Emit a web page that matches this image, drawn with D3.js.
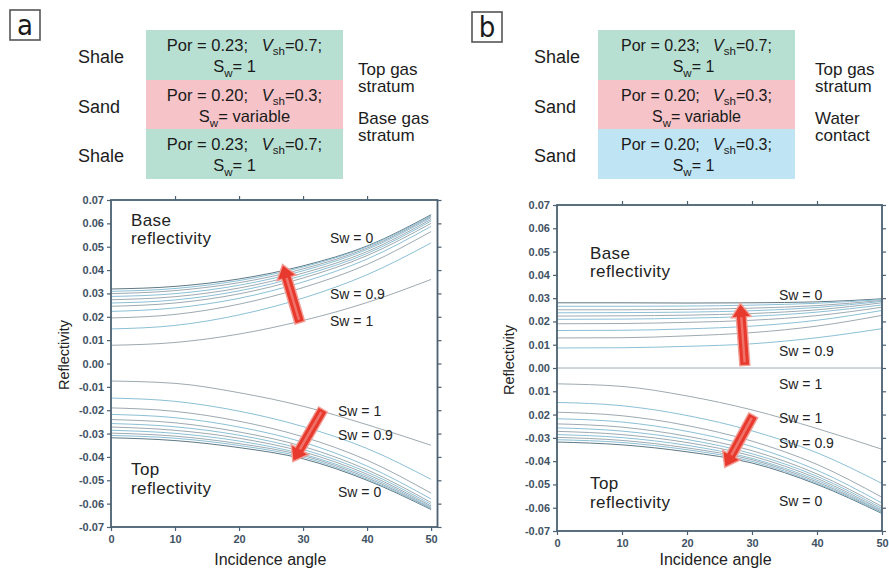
<!DOCTYPE html>
<html>
<head>
<meta charset="utf-8">
<script src="https://cdn.jsdelivr.net/npm/d3@7"></script>
<style>
  body { margin: 0; background: #fff; }
  svg { display: block; font-family: "Liberation Sans", Arial, sans-serif; }
</style>
</head>
<body>
<svg id="chart" width="889" height="570"></svg>
<script>
var angles = [0, 10, 20, 30, 40, 50];
var swLevels = [0, 0.1, 0.2, 0.3, 0.4, 0.5, 0.6, 0.7, 0.8, 0.9, 1];

// panel a, shale / gas sand / shale (rows: Sw = 0 ... 1)
var baseA = [
  [0.0319, 0.0330, 0.0362, 0.0418, 0.0503, 0.0637],
  [0.0309, 0.0321, 0.0355, 0.0413, 0.0500, 0.0633],
  [0.0299, 0.0312, 0.0346, 0.0405, 0.0494, 0.0629],
  [0.0287, 0.0299, 0.0335, 0.0397, 0.0488, 0.0624],
  [0.0273, 0.0286, 0.0323, 0.0387, 0.0479, 0.0617],
  [0.0259, 0.0272, 0.0311, 0.0377, 0.0471, 0.0610],
  [0.0245, 0.0259, 0.0298, 0.0366, 0.0462, 0.0600],
  [0.0223, 0.0238, 0.0279, 0.0349, 0.0447, 0.0587],
  [0.0195, 0.0210, 0.0254, 0.0325, 0.0424, 0.0565],
  [0.0148, 0.0163, 0.0208, 0.0280, 0.0380, 0.0516],
  [0.0078, 0.0090, 0.0126, 0.0184, 0.0261, 0.0360]
];
var topA = [
  [-0.0318, -0.0330, -0.0360, -0.0408, -0.0500, -0.0625],
  [-0.0308, -0.0320, -0.0351, -0.0401, -0.0495, -0.0622],
  [-0.0298, -0.0311, -0.0343, -0.0394, -0.0489, -0.0619],
  [-0.0286, -0.0299, -0.0332, -0.0388, -0.0482, -0.0615],
  [-0.0272, -0.0286, -0.0320, -0.0378, -0.0474, -0.0610],
  [-0.0257, -0.0271, -0.0307, -0.0368, -0.0465, -0.0603],
  [-0.0240, -0.0254, -0.0293, -0.0355, -0.0455, -0.0595],
  [-0.0218, -0.0232, -0.0272, -0.0337, -0.0439, -0.0580],
  [-0.0190, -0.0205, -0.0247, -0.0314, -0.0414, -0.0555],
  [-0.0148, -0.0162, -0.0204, -0.0270, -0.0364, -0.0496],
  [-0.0075, -0.0085, -0.0125, -0.0183, -0.0262, -0.0350]
];

// panel b, shale / gas sand / water sand
var baseB = [
  [0.0280, 0.0280, 0.0279, 0.0280, 0.0284, 0.0297],
  [0.0265, 0.0265, 0.0266, 0.0270, 0.0278, 0.0294],
  [0.0250, 0.0250, 0.0252, 0.0257, 0.0268, 0.0290],
  [0.0237, 0.0238, 0.0240, 0.0246, 0.0260, 0.0286],
  [0.0223, 0.0224, 0.0227, 0.0234, 0.0250, 0.0280],
  [0.0209, 0.0210, 0.0214, 0.0222, 0.0240, 0.0271],
  [0.0190, 0.0191, 0.0196, 0.0205, 0.0225, 0.0261],
  [0.0161, 0.0162, 0.0168, 0.0180, 0.0205, 0.0247],
  [0.0129, 0.0130, 0.0138, 0.0152, 0.0180, 0.0226],
  [0.0086, 0.0087, 0.0093, 0.0104, 0.0130, 0.0169],
  [0, 0, 0, 0, 0, 0]
];
var topB = [
  [-0.0318, -0.0330, -0.0360, -0.0408, -0.0500, -0.0625],
  [-0.0308, -0.0320, -0.0351, -0.0401, -0.0495, -0.0622],
  [-0.0298, -0.0311, -0.0343, -0.0394, -0.0489, -0.0619],
  [-0.0286, -0.0299, -0.0332, -0.0388, -0.0482, -0.0615],
  [-0.0272, -0.0286, -0.0320, -0.0378, -0.0474, -0.0610],
  [-0.0257, -0.0271, -0.0307, -0.0368, -0.0465, -0.0603],
  [-0.0240, -0.0254, -0.0293, -0.0355, -0.0455, -0.0595],
  [-0.0218, -0.0232, -0.0272, -0.0337, -0.0439, -0.0580],
  [-0.0190, -0.0205, -0.0247, -0.0314, -0.0414, -0.0555],
  [-0.0148, -0.0162, -0.0204, -0.0270, -0.0364, -0.0496],
  [-0.0068, -0.0079, -0.0120, -0.0180, -0.0260, -0.0349]
];

var xTicks = [0, 10, 20, 30, 40, 50];
var yTicks = [0.07, 0.06, 0.05, 0.04, 0.03, 0.02, 0.01, 0, -0.01, -0.02, -0.03, -0.04, -0.05, -0.06, -0.07];
var yLabelsA = ["0.07", "0.06", "0.05", "0.04", "0.03", "0.02", "0.01", "0.00", "-0.01", "-0.02", "-0.03", "-0.04", "-0.05", "-0.06", "-0.07"];
var yLabelsB = ["0.07", "0.06", "0.05", "0.04", "0.03", "0.02", "0.01", "0.00", "0.01", "0.02", "-0.03", "-0.04", "-0.05", "-0.06", "-0.07"];

// layer boxes
var rocksA = ["Shale", "Sand", "Shale"];
var porA = ["0.23", "0.20", "0.23"];
var vshA = ["0.7", "0.3", "0.7"];
var swA = ["1", "variable", "1"];
var rocksB = ["Shale", "Sand", "Sand"];
var porB = ["0.23", "0.20", "0.20"];
var vshB = ["0.7", "0.3", "0.3"];
var swB = ["1", "variable", "1"];

// arrow ends in data units [angle, reflectivity]
var arrowsA = [[[29.5, 0.0175], [26.8, 0.0424]], [[33.1, -0.0197], [28.4, -0.0420]]];
var arrowsB = [[[28.9, 0.0011], [28.2, 0.0278]], [[30.2, -0.0203], [25.8, -0.0427]]];

var svg = d3.select("#chart");
var axisCol = "#4b6070";

function blockArrow(g, p0, p1) {
  var dx = p1[0] - p0[0], dy = p1[1] - p0[1];
  var len = Math.sqrt(dx * dx + dy * dy);
  var ux = dx / len, uy = dy / len, nx = -uy, ny = ux;
  var sw = 5, hw = 10, hl = 14;
  var bx = p1[0] - ux * hl, by = p1[1] - uy * hl;
  var pts = [
    [p0[0] + nx * sw, p0[1] + ny * sw],
    [bx + nx * sw, by + ny * sw],
    [bx + nx * hw, by + ny * hw],
    [p1[0], p1[1]],
    [bx - nx * hw, by - ny * hw],
    [bx - nx * sw, by - ny * sw],
    [p0[0] - nx * sw, p0[1] - ny * sw]
  ];
  g.append("polygon")
    .attr("points", pts.map(function(p) { return p.join(","); }).join(" "))
    .attr("fill", "#e8392e")
    .attr("stroke", "#f29d94")
    .attr("stroke-width", 1.4);
  g.append("line")
    .attr("x1", p0[0] + ux * 3).attr("y1", p0[1] + uy * 3)
    .attr("x2", bx).attr("y2", by)
    .attr("stroke", "#f6a097")
    .attr("stroke-width", 2.5)
    .attr("opacity", 0.55);
}

// two stacked lines in one text element
function twoLines(g, x, y, gap, a, b, size) {
  var t = g.append("text")
    .attr("x", x).attr("y", y)
    .style("font-size", size + "px")
    .attr("fill", "#222");
  t.append("tspan").attr("x", x).text(a);
  t.append("tspan").attr("x", x).attr("dy", gap).text(b);
  return t;
}

function drawPanel(opt) {
  var x = d3.scaleLinear().domain(opt.xDomain).range(opt.xRange);
  var y = d3.scaleLinear().domain([-0.07, 0.07]).range(opt.yRange);
  var g = svg.append("g");

  g.append("rect")
    .attr("x", opt.xRange[0]).attr("y", opt.yRange[1])
    .attr("width", opt.xRange[1] - opt.xRange[0])
    .attr("height", opt.yRange[0] - opt.yRange[1])
    .attr("fill", "#fff");

  var line = d3.line()
    .x(function(d, i) { return x(angles[i]); })
    .y(function(d) { return y(d); })
    .curve(d3.curveMonotoneX);

  [opt.base, opt.top].forEach(function(set) {
    g.selectAll(null)
      .data(set)
      .enter()
      .append("path")
      .attr("d", line)
      .attr("fill", "none")
      .attr("stroke", function(d, i) {
        if (i === 0) return "#5f7884";
        return i % 2 ? "#8cc0d6" : "#9eaab1";
      })
      .attr("stroke-width", 1);
  });

  // axes
  var left = g.append("g")
    .attr("transform", "translate(" + opt.xRange[0] + ",0)")
    .call(d3.axisLeft(y).tickValues(yTicks).tickSize(4).tickPadding(3)
      .tickFormat(function(d, i) { return opt.yLabels[i]; }));
  var right = g.append("g")
    .attr("transform", "translate(" + opt.xRange[1] + ",0)")
    .call(d3.axisRight(y).tickValues(yTicks).tickSize(4).tickFormat(""));
  var bottom = g.append("g")
    .attr("transform", "translate(0," + opt.yRange[0] + ")")
    .call(d3.axisBottom(x).tickValues(xTicks).tickSize(4).tickPadding(4)
      .tickFormat(d3.format("d")));
  var top = g.append("g")
    .attr("transform", "translate(0," + opt.yRange[1] + ")")
    .call(d3.axisTop(x).tickValues(xTicks.slice(1, 5)).tickSize(4).tickFormat(""));

  [left, right, bottom, top].forEach(function(a) {
    a.select(".domain").remove();
    a.selectAll("line").attr("stroke", axisCol).attr("stroke-width", 1.2);
    a.selectAll("text")
      .attr("fill", "#3f5263")
      .style("font-size", "11px")
      .style("font-weight", "bold");
  });

  g.append("rect")
    .attr("x", opt.xRange[0]).attr("y", opt.yRange[1])
    .attr("width", opt.xRange[1] - opt.xRange[0])
    .attr("height", opt.yRange[0] - opt.yRange[1])
    .attr("fill", "none")
    .attr("stroke", axisCol)
    .attr("stroke-width", 1.8);

  // axis titles
  g.append("text")
    .attr("transform", "translate(" + opt.yTitle[0] + "," + opt.yTitle[1] + ") rotate(-90)")
    .attr("text-anchor", "middle")
    .style("font-size", "14.5px")
    .attr("fill", "#222")
    .text("Reflectivity");
  g.append("text")
    .attr("x", (opt.xRange[0] + opt.xRange[1]) / 2 - 4)
    .attr("y", 565)
    .attr("text-anchor", "middle")
    .style("font-size", "16px")
    .attr("fill", "#222")
    .text("Incidence angle");

  // in-plot labels
  opt.blocks.forEach(function(b) {
    twoLines(g, b[0], b[1], b[2], b[3], b[4], 17).style("letter-spacing", "0.4px");
  });
  opt.notes.forEach(function(n) {
    g.append("text")
      .attr("x", n[0]).attr("y", n[1])
      .style("font-size", "14px")
      .attr("fill", "#242424")
      .text(n[2]);
  });

  opt.arrows.forEach(function(a) {
    blockArrow(g, [x(a[0][0]), y(a[0][1])], [x(a[1][0]), y(a[1][1])]);
  });
}

function drawHeader(opt) {
  var g = svg.append("g");
  var boxW = opt.box[1] - opt.box[0];
  var cx = (opt.box[0] + opt.box[1]) / 2;
  var rowTop = [30, 80, 129];
  var rowH = [50, 49, 50];

  g.append("rect")
    .attr("x", opt.tag[0]).attr("y", opt.tag[1])
    .attr("width", 30).attr("height", 30)
    .attr("fill", "#fff")
    .attr("stroke", "#555")
    .attr("stroke-width", 1.6);
  g.append("text")
    .attr("x", opt.tag[0] + 15).attr("y", opt.tag[1] + 25)
    .attr("text-anchor", "middle")
    .style("font-family", "'Liberation Sans Narrow', 'DejaVu Sans Condensed', sans-serif")
    .style("font-size", "29px")
    .attr("fill", "#1a1a1a")
    .text(opt.letter);

  opt.rocks.forEach(function(r, i) {
    g.append("rect")
      .attr("x", opt.box[0]).attr("y", rowTop[i])
      .attr("width", boxW).attr("height", rowH[i])
      .attr("fill", opt.colors[i]);

    g.append("text")
      .attr("x", opt.rockX).attr("y", rowTop[i] + 33)
      .style("font-size", "18px")
      .attr("fill", "#1c1c1c")
      .text(r);

    // both lines of the box in one text element
    var t = g.append("text")
      .attr("x", cx).attr("y", rowTop[i] + 21)
      .attr("text-anchor", "middle")
      .style("font-size", opt.fs + "px")
      .style("white-space", "pre")
      .attr("fill", "#1a1a1a");
    t.append("tspan").text("Por = " + opt.por[i] + ";   ");
    t.append("tspan").style("font-style", "italic").text("V");
    t.append("tspan").attr("dy", 4).style("font-size", "11.5px").text("sh");
    t.append("tspan").attr("dy", -4).text("=" + opt.vsh[i] + ";");
    t.append("tspan")
      .attr("x", cx - (opt.sw[i] === "1" ? opt.sw1Shift : 0))
      .attr("y", rowTop[i] + 42)
      .text("S");
    t.append("tspan").attr("dy", 5).style("font-size", "11.5px").text("w");
    t.append("tspan").attr("dy", -5).text("= " + opt.sw[i]);
  });

  opt.side.forEach(function(s) {
    twoLines(g, opt.sideX, s[2], 17.5, s[0], s[1], 17).attr("fill", "#1c1c1c");
  });
}

drawHeader({
  letter: "a", tag: [10, 10], box: [146, 343], rockX: 78, sideX: 358, fs: 16.5, sw1Shift: 10,
  rocks: rocksA, por: porA, vsh: vshA, sw: swA,
  colors: ["#b8e0d2", "#f5c3c8", "#b8e0d2"],
  side: [["Top gas", "stratum", 74.5], ["Base gas", "stratum", 123.5]]
});
drawHeader({
  letter: "b", tag: [472, 12], box: [598, 795], rockX: 534, sideX: 815, fs: 16, sw1Shift: 3,
  rocks: rocksB, por: porB, vsh: vshB, sw: swB,
  colors: ["#b8e0d2", "#f5c3c8", "#bfe4f3"],
  side: [["Top gas", "stratum", 74.5], ["Water", "contact", 123.5]]
});

drawPanel({
  xDomain: [0, 51], xRange: [111, 437.5], yRange: [527, 200],
  base: baseA, top: topA, yLabels: yLabelsA, yTitle: [69, 355],
  arrows: arrowsA,
  blocks: [[131, 226, 18, "Base", "reflectivity"], [131, 475, 19, "Top", "reflectivity"]],
  notes: [[330, 243, "Sw = 0"], [330, 299, "Sw = 0.9"], [330, 326, "Sw = 1"],
          [338, 416, "Sw = 1"], [338, 440, "Sw = 0.9"], [338, 497, "Sw = 0"]]
});
drawPanel({
  xDomain: [0, 50], xRange: [557, 882], yRange: [531, 205],
  base: baseB, top: topB, yLabels: yLabelsB, yTitle: [514, 360],
  arrows: arrowsB,
  blocks: [[590, 259, 18, "Base", "reflectivity"], [590, 489, 19, "Top", "reflectivity"]],
  notes: [[779, 300, "Sw = 0"], [779, 356, "Sw = 0.9"], [779, 389, "Sw = 1"],
          [779, 423, "Sw = 1"], [779, 448, "Sw = 0.9"], [779, 506, "Sw = 0"]]
});
</script>
</body>
</html>
